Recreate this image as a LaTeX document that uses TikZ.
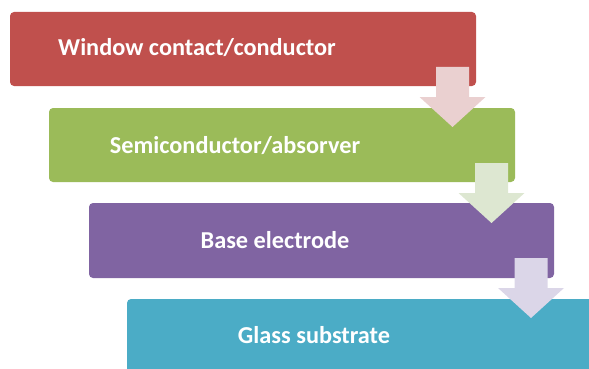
\documentclass[tikz,border=0pt]{standalone}
\usepackage{fontspec}
\setmainfont{Carlito}
\definecolor{layerA}{RGB}{192,80,77}
\definecolor{layerB}{RGB}{155,187,89}
\definecolor{layerC}{RGB}{128,100,162}
\definecolor{layerD}{RGB}{75,172,198}
\definecolor{arrowA}{RGB}{234,208,208}
\definecolor{arrowB}{RGB}{221,231,209}
\definecolor{arrowC}{RGB}{219,214,232}
\tikzset{
  layer/.style={fill=#1, draw=none, rounded corners=4pt},
  layertext/.style={text=white, font=\bfseries\fontsize{24.3}{28}\selectfont, anchor=base, inner sep=0pt},
  downarrow/.style={fill=#1, draw=none},
}
% down arrow: centre x, top y, fill colour
\newcommand{\stepdown}[3]{%
  \fill[downarrow=#3] (#1-16.5,#2) -- (#1+16.5,#2) -- (#1+16.5,#2+30) -- (#1+33,#2+30)
    -- (#1,#2+60) -- (#1-33,#2+30) -- (#1-16.5,#2+30) -- cycle;}
\begin{document}
\begin{tikzpicture}[x=1pt,y=-1pt]
\useasboundingbox (0,0) rectangle (589,369);
\clip (0,0) rectangle (589,369);
% layers of the cell stack
\fill[layer=layerA] (10,12) rectangle (476,86);
\fill[layer=layerB] (49,108) rectangle (515,182);
\fill[layer=layerC] (89,203) rectangle (554,278);
\fill[layer=layerD] (127,299) rectangle (600,380);
% labels
\node[layertext] (tA) at (197,56) {Window contact/conductor};
\node[layertext] (tB) at (235,153) {Semiconductor/absorver};
\node[layertext] (tC) at (275,248) {Base electrode};
\node[layertext] (tD) at (314,343) {Glass substrate};
% arrows between layers
\stepdown{452.5}{67}{arrowA}
\stepdown{491.5}{163}{arrowB}
\stepdown{531}{258}{arrowC}
\end{tikzpicture}
\end{document}
